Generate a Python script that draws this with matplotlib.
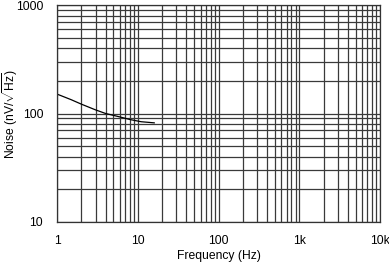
import numpy as np
import matplotlib
matplotlib.use("Agg")
import matplotlib.pyplot as plt
from matplotlib.ticker import FixedLocator, LogLocator, NullFormatter

plt.rcParams['font.family'] = ['Liberation Sans', 'DejaVu Sans']
plt.rcParams['mathtext.fontset'] = 'custom'
plt.rcParams['mathtext.rm'] = 'Liberation Sans'

# noise curve
freq = [1, 1.5, 2, 3, 4, 6, 8, 11, 16]
noise = [151, 134, 122, 108, 100, 93, 88, 84, 82]

x_ticks = [1, 10, 100, 1000, 10000]
x_labels = ['1', '10', '100', '1k', '10k']
y_ticks = [10, 100, 1000]
y_labels = ['10', '100', '1000']

fig = plt.figure(figsize=(3.89, 2.64), dpi=100)
# axes box in pixels: left 57, right 380, top 5, bottom 222
ax = fig.add_axes([57/389, 42/264, 323/389, 217/264])

ax.set_xscale('log')
ax.set_yscale('log')
ax.set_xlim(1, 10000)
ax.set_ylim(10, 1000)

ax.plot(freq, noise, color='black', lw=0.9)

ax.xaxis.set_major_locator(FixedLocator(x_ticks))
ax.yaxis.set_major_locator(FixedLocator(y_ticks))
ax.set_xticklabels(x_labels)
ax.set_yticklabels(y_labels)
ax.xaxis.set_minor_locator(LogLocator(base=10, subs=np.arange(2, 10)))
ax.yaxis.set_minor_locator(LogLocator(base=10, subs=np.arange(2, 10)))
ax.xaxis.set_minor_formatter(NullFormatter())
ax.yaxis.set_minor_formatter(NullFormatter())

ax.grid(True, which='both', color='#3a3a3a', lw=0.9)
ax.tick_params(which='both', length=0, labelsize=8.7)
ax.tick_params(axis='y', pad=10)
ax.tick_params(axis='x', pad=9)
for s in ax.spines.values():
    s.set_color('#333333')
    s.set_linewidth(0.9)

ax.set_xlabel('Frequency (Hz)', fontsize=8.7)
ax.set_ylabel(r'Noise (nV/$\sqrt{\mathrm{Hz}}$)', fontsize=8.7)
ax.xaxis.set_label_coords((219 - 57) / 323, (222 - 250) / 217)
ax.yaxis.set_label_coords((20 - 57) / 323, (222 - 114) / 217)

fig.savefig('out.png', dpi=100)
